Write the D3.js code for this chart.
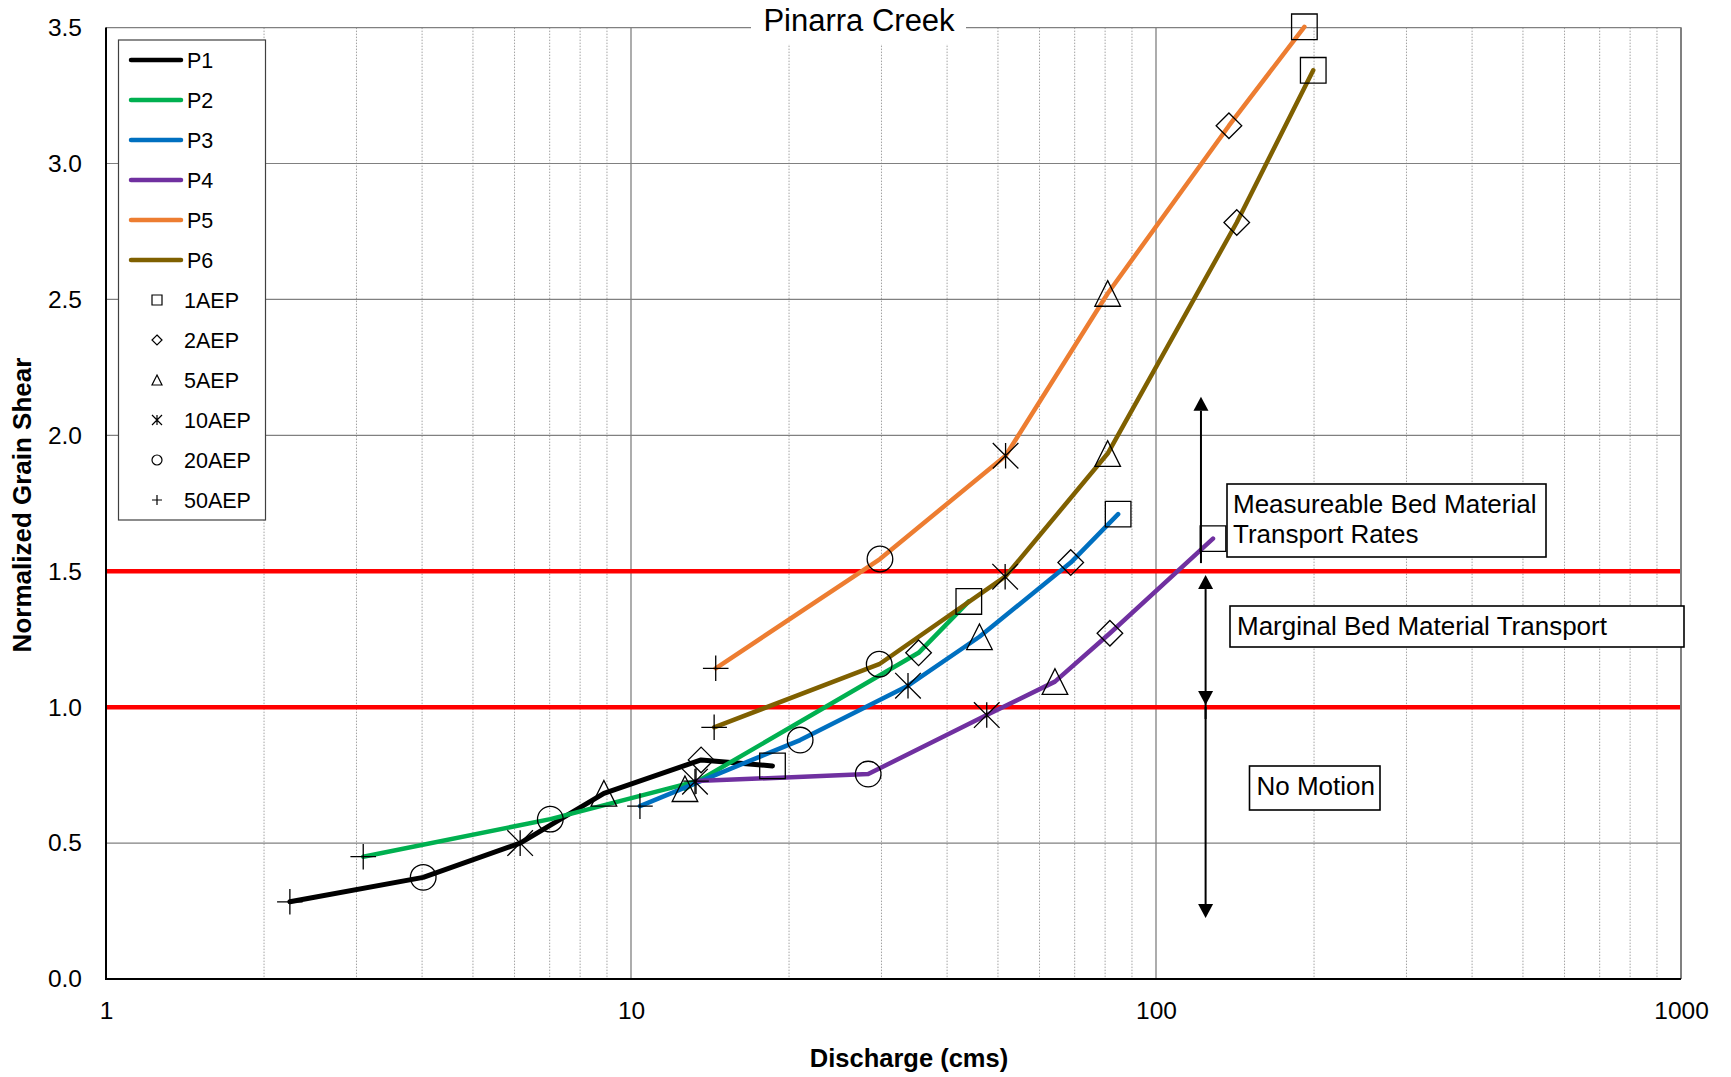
<!DOCTYPE html>
<html>
<head>
<meta charset="utf-8">
<script src="https://cdn.jsdelivr.net/npm/d3@7"></script>
<style>
body { margin: 0; background: #fff; }
svg text { font-family: "Liberation Sans", Arial, sans-serif; fill: #000; }
</style>
</head>
<body>
<svg width="1731" height="1077"></svg>
<script>
// series and events
var series = ["P1", "P2", "P3", "P4", "P5", "P6"];
var colors = ["#000000", "#00b050", "#0070c0", "#7030a0", "#ed7d31", "#7f6000"];
var events = ["50AEP", "20AEP", "10AEP", "5AEP", "2AEP", "1AEP"];
var symbols = ["plus", "circle", "star", "triangle", "diamond", "square"];
var legendEvents = ["1AEP", "2AEP", "5AEP", "10AEP", "20AEP", "50AEP"];

// discharge (cms) per event, order 50,20,10,5,2,1 AEP
var p1Q = [2.24, 4.02, 6.15, 8.88, 13.6, 18.6];
var p2Q = [3.09, 7.02, 13.24, 12.67, 35.3, 44.0];
var p3Q = [10.4, 21.0, 33.7, 46.1, 68.8, 84.7];
var p4Q = [13.3, 28.3, 47.6, 64.2, 81.7, 128.4];
var p5Q = [14.5, 29.8, 51.7, 80.9, 137.7, 191.7];
var p6Q = [14.4, 29.7, 51.6, 80.9, 142.5, 199.3];

// normalized grain shear
var p1G = [0.284, 0.374, 0.50, 0.683, 0.806, 0.784];
var p2G = [0.45, 0.588, 0.726, 0.70, 1.20, 1.389];
var p3G = [0.636, 0.879, 1.079, 1.259, 1.532, 1.710];
var p4G = [0.728, 0.754, 0.971, 1.094, 1.272, 1.620];
var p5G = [1.143, 1.545, 1.925, 2.522, 3.139, 3.503];
var p6G = [0.926, 1.158, 1.480, 1.933, 2.783, 3.343];

var allQ = [p1Q, p2Q, p3Q, p4Q, p5Q, p6Q];
var allG = [p1G, p2G, p3G, p4G, p5G, p6G];

var thresholds = [1.0, 1.5];
var yTicks = [0, 0.5, 1.0, 1.5, 2.0, 2.5, 3.0, 3.5];
var xTicks = [1, 10, 100, 1000];

var svg = d3.select("svg");
var x = d3.scaleLog().domain([1, 1000]).range([106, 1681]);
var y = d3.scaleLinear().domain([0, 3.5]).range([979, 27.6]);

var grid = svg.append("g");
// minor vertical grid
grid.selectAll(".minor")
  .data(x.ticks().filter(function(d) { return xTicks.indexOf(d) < 0; }))
  .enter().append("line")
  .attr("x1", d => x(d)).attr("x2", d => x(d))
  .attr("y1", y(3.5)).attr("y2", y(0))
  .attr("stroke", "#8c8c8c").attr("stroke-width", 0.8)
  .attr("stroke-dasharray", "1.5,1.5");
// major vertical grid
grid.selectAll(".major")
  .data(xTicks.slice(1))
  .enter().append("line")
  .attr("x1", d => x(d)).attr("x2", d => x(d))
  .attr("y1", y(3.5)).attr("y2", y(0))
  .attr("stroke", "#808080").attr("stroke-width", 1.3);
// horizontal grid
grid.selectAll(".hgrid")
  .data(yTicks.slice(1))
  .enter().append("line")
  .attr("x1", x(1)).attr("x2", x(1000))
  .attr("y1", d => y(d)).attr("y2", d => y(d))
  .attr("stroke", "#808080").attr("stroke-width", 1.2);

// threshold lines
svg.selectAll(".thr")
  .data(thresholds)
  .enter().append("line")
  .attr("x1", x(1)).attr("x2", x(1000))
  .attr("y1", d => y(d)).attr("y2", d => y(d))
  .attr("stroke", "#ff0000").attr("stroke-width", 4.5);

// series lines
var line = d3.line().x(d => x(d.q)).y(d => y(d.g));
series.forEach(function(name, i) {
  var pts = allQ[i].map(function(q, j) { return { q: q, g: allG[i][j], ev: j }; });
  svg.append("path")
    .datum(pts)
    .attr("d", line)
    .attr("fill", "none")
    .attr("stroke", colors[i])
    .attr("stroke-width", i === 0 ? 5 : 4.5)
    .attr("stroke-linejoin", "round")
    .attr("stroke-linecap", "round");
});

function symbolPath(type, s) {
  if (type === "square") return "M" + (-s) + "," + (-s) + "h" + 2 * s + "v" + 2 * s + "h" + (-2 * s) + "Z";
  if (type === "diamond") return "M0," + (-s) + "L" + s + ",0L0," + s + "L" + (-s) + ",0Z";
  if (type === "triangle") return "M0," + (-s) + "L" + s + "," + s + "L" + (-s) + "," + s + "Z";
  if (type === "star") return "M" + (-s) + "," + (-s) + "L" + s + "," + s + "M" + (-s) + "," + s + "L" + s + "," + (-s) + "M0," + (-s) + "L0," + s;
  if (type === "plus") return "M" + (-s) + ",0L" + s + ",0M0," + (-s) + "L0," + s;
  if (type === "circle") return "M" + (-s) + ",0A" + s + "," + s + " 0 1,0 " + s + ",0A" + s + "," + s + " 0 1,0 " + (-s) + ",0Z";
}

// markers
series.forEach(function(name, i) {
  var pts = allQ[i].map(function(q, j) { return { q: q, g: allG[i][j], ev: j }; });
  svg.append("g").selectAll("path")
    .data(pts)
    .enter().append("path")
    .attr("transform", d => "translate(" + x(d.q) + "," + y(d.g) + ")")
    .attr("d", d => symbolPath(symbols[d.ev], 12.8))
    .attr("fill", "none")
    .attr("stroke", "#000")
    .attr("stroke-width", 1.3);
});

// axes
var yAxis = svg.append("g")
  .attr("transform", "translate(" + x(1) + ",0)")
  .call(d3.axisLeft(y).tickValues(yTicks).tickFormat(d3.format(".1f")).tickSize(0).tickPadding(24));
yAxis.select(".domain").remove();
yAxis.selectAll("text").style("font-size", "24.5px").style("font-family", "Liberation Sans, Arial, sans-serif");

var xAxis = svg.append("g")
  .attr("transform", "translate(0," + y(0) + ")")
  .call(d3.axisBottom(x).tickValues(xTicks).tickFormat(d3.format("d")).tickSize(0).tickPadding(23));
xAxis.select(".domain").remove();
xAxis.selectAll("text").style("font-size", "24.5px").style("font-family", "Liberation Sans, Arial, sans-serif");

svg.append("line")
  .attr("x1", x(1000)).attr("x2", x(1000)).attr("y1", y(3.5)).attr("y2", y(0))
  .attr("stroke", "#808080").attr("stroke-width", 2);
svg.append("line")
  .attr("x1", x(1)).attr("x2", x(1)).attr("y1", y(3.5)).attr("y2", y(0) + 1)
  .attr("stroke", "#000").attr("stroke-width", 2);
svg.append("line")
  .attr("x1", x(1) - 1).attr("x2", x(1000)).attr("y1", y(0)).attr("y2", y(0))
  .attr("stroke", "#000").attr("stroke-width", 2);

// axis titles
svg.append("text")
  .attr("x", 909).attr("y", 1067)
  .attr("text-anchor", "middle")
  .style("font-size", "25.5px").style("font-weight", "bold")
  .text("Discharge (cms)");
svg.append("text")
  .attr("transform", "translate(31,505) rotate(-90)")
  .attr("text-anchor", "middle")
  .style("font-size", "26px").style("font-weight", "bold")
  .text("Normalized Grain Shear");

// chart title
svg.append("rect")
  .attr("x", 751).attr("y", 0).attr("width", 215).attr("height", 44)
  .attr("fill", "#fff");
svg.append("text")
  .attr("x", 859).attr("y", 31)
  .attr("text-anchor", "middle")
  .style("font-size", "31px")
  .text("Pinarra Creek");

// legend
var legend = svg.append("g");
legend.append("rect")
  .attr("x", 118.5).attr("y", 40).attr("width", 147).attr("height", 480)
  .attr("fill", "#fff").attr("stroke", "#404040").attr("stroke-width", 1.2);
series.forEach(function(name, i) {
  var ly = 60 + i * 40;
  legend.append("line")
    .attr("x1", 131).attr("x2", 181).attr("y1", ly).attr("y2", ly)
    .attr("stroke", colors[i]).attr("stroke-width", 4.5).attr("stroke-linecap", "round");
  legend.append("text")
    .attr("x", 187).attr("y", ly + 7.5)
    .style("font-size", "21.5px")
    .text(name);
});
legendEvents.forEach(function(ev, i) {
  var ly = 300 + i * 40;
  var sym = symbols[events.indexOf(ev)];
  legend.append("path")
    .attr("transform", "translate(157," + ly + ")")
    .attr("d", symbolPath(sym, 5))
    .attr("fill", "none").attr("stroke", "#000").attr("stroke-width", 1.2);
  legend.append("text")
    .attr("x", 184).attr("y", ly + 7.5)
    .style("font-size", "21.5px")
    .text(ev);
});

// arrows
function arrow(q, g1, g2, headStart, headEnd) {
  var ax = x(q), y1 = y(g1), y2 = y(g2);
  var dir = y2 < y1 ? -1 : 1;
  var hl = 14, hw = 7.5;
  var s = headStart ? y1 - dir * hl : y1;
  var e = headEnd ? y2 - dir * hl : y2;
  svg.append("line")
    .attr("x1", ax).attr("x2", ax).attr("y1", s).attr("y2", e)
    .attr("stroke", "#000").attr("stroke-width", 2);
  if (headEnd) {
    svg.append("path")
      .attr("d", "M" + ax + "," + y2 + "L" + (ax - hw) + "," + (y2 - dir * hl) + "L" + (ax + hw) + "," + (y2 - dir * hl) + "Z")
      .attr("fill", "#000");
  }
  if (headStart) {
    svg.append("path")
      .attr("d", "M" + ax + "," + y1 + "L" + (ax - hw) + "," + (y1 + dir * hl) + "L" + (ax + hw) + "," + (y1 + dir * hl) + "Z")
      .attr("fill", "#000");
  }
}
arrow(121.8, 1.53, 2.142, false, true);
arrow(124.3, 1.008, 1.486, true, true);
arrow(124.3, 1.0, 0.224, false, true);

// annotation boxes
function noteBox(bx, by, bw, bh, lines, tx, ty) {
  svg.append("rect")
    .attr("x", bx).attr("y", by).attr("width", bw).attr("height", bh)
    .attr("fill", "#fff").attr("stroke", "#000").attr("stroke-width", 1.6);
  lines.forEach(function(t, i) {
    svg.append("text")
      .attr("x", tx).attr("y", ty + i * 30)
      .style("font-size", "26px")
      .text(t);
  });
}
noteBox(1227, 484, 319, 73, ["Measureable Bed Material", "Transport Rates"], 1233, 513);
noteBox(1230, 606, 454, 41, ["Marginal Bed Material Transport"], 1237, 635);
noteBox(1249.5, 766, 130.5, 44, ["No Motion"], 1256.5, 795);
</script>
</body>
</html>
